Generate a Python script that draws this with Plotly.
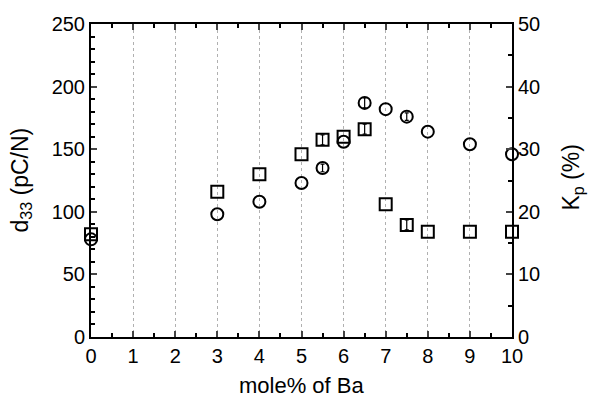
import plotly.graph_objects as go

ba = [0, 3, 4, 5, 5.5, 6, 6.5, 7, 7.5, 8, 9, 10]
d33 = [78, 98, 108, 123, 135, 156, 187, 182, 176, 164, 154, 146]
d33_err = [0, 0, 0, 0, 3, 0, 4, 0, 3, 0, 0, 0]
kp = [16.4, 23.2, 26.0, 29.2, 31.5, 32.0, 33.2, 21.2, 17.9, 16.8, 16.8, 16.8]
kp_err = [0, 0, 0, 0, 0.8, 0, 0.8, 0, 0.8, 0, 0, 0]

x_ticks = list(range(0, 11))
left_ticks = [0, 50, 100, 150, 200, 250]
right_ticks = [0, 10, 20, 30, 40, 50]

font = "Liberation Sans, Arial, sans-serif"

fig = go.Figure()
fig.add_trace(go.Scatter(
    x=ba, y=d33, mode="markers", yaxis="y",
    marker=dict(symbol="circle-open", size=12, color="black", line=dict(width=2, color="black")),
    cliponaxis=False, showlegend=False))
fig.add_trace(go.Scatter(
    x=ba, y=kp, mode="markers", yaxis="y2",
    marker=dict(symbol="square-open", size=12, color="black", line=dict(width=2, color="black")),
    cliponaxis=False, showlegend=False))

# error bars only where present
ie = [i for i, e in enumerate(d33_err) if e > 0]
fig.add_trace(go.Scatter(
    x=[ba[i] for i in ie], y=[d33[i] for i in ie], mode="markers", yaxis="y",
    marker=dict(size=1, color="rgba(0,0,0,0)"),
    error_y=dict(type="data", array=[d33_err[i] for i in ie], color="black", thickness=1.2, width=2),
    cliponaxis=False, showlegend=False))
ke = [i for i, e in enumerate(kp_err) if e > 0]
fig.add_trace(go.Scatter(
    x=[ba[i] for i in ke], y=[kp[i] for i in ke], mode="markers", yaxis="y2",
    marker=dict(size=1, color="rgba(0,0,0,0)"),
    error_y=dict(type="data", array=[kp_err[i] for i in ke], color="black", thickness=1.2, width=2),
    cliponaxis=False, showlegend=False))

fig.update_layout(
    width=591, height=401,
    margin=dict(l=91, r=79, t=24, b=64),
    paper_bgcolor="white", plot_bgcolor="white",
    font=dict(family=font, size=20, color="black"),
    xaxis=dict(range=[0, 10], tickvals=x_ticks, ticks="inside", ticklen=6, tickwidth=1.5,
               showline=True, linecolor="black", linewidth=2, mirror="ticks",
               showgrid=True, gridcolor="#b0b0b0", griddash="dot", gridwidth=1,
               zeroline=False,
               minor=dict(dtick=0.5, ticks="inside", ticklen=4, tickcolor="black", showgrid=False)),
    yaxis=dict(range=[0, 250], tickvals=left_ticks, ticks="inside", ticklen=6, tickwidth=1.5,
               showline=True, linecolor="black", linewidth=2, showgrid=False, zeroline=False,
               minor=dict(dtick=10, ticks="inside", ticklen=4, tickcolor="black")),
    yaxis2=dict(range=[0, 50], tickvals=right_ticks, ticks="inside", ticklen=6, tickwidth=1.5,
                overlaying="y", side="right",
                showline=True, linecolor="black", linewidth=2, showgrid=False, zeroline=False,
                minor=dict(dtick=5, ticks="inside", ticklen=4, tickcolor="black")),
    annotations=[
        dict(text="mole% of Ba", xref="paper", yref="paper", x=0.5, y=-0.2,
             xanchor="center", yanchor="bottom", showarrow=False, font=dict(size=22)),
        dict(text="d<sub>33</sub> (pC/N)", xref="paper", yref="paper", x=-0.166, y=0.5,
             xanchor="center", yanchor="middle", textangle=-90, showarrow=False, font=dict(size=23)),
        dict(text="K<sub>p</sub> (%)", xref="paper", yref="paper", x=1.143, y=0.51,
             xanchor="center", yanchor="middle", textangle=-90, showarrow=False, font=dict(size=23)),
    ],
)

fig.write_html("out.html")
